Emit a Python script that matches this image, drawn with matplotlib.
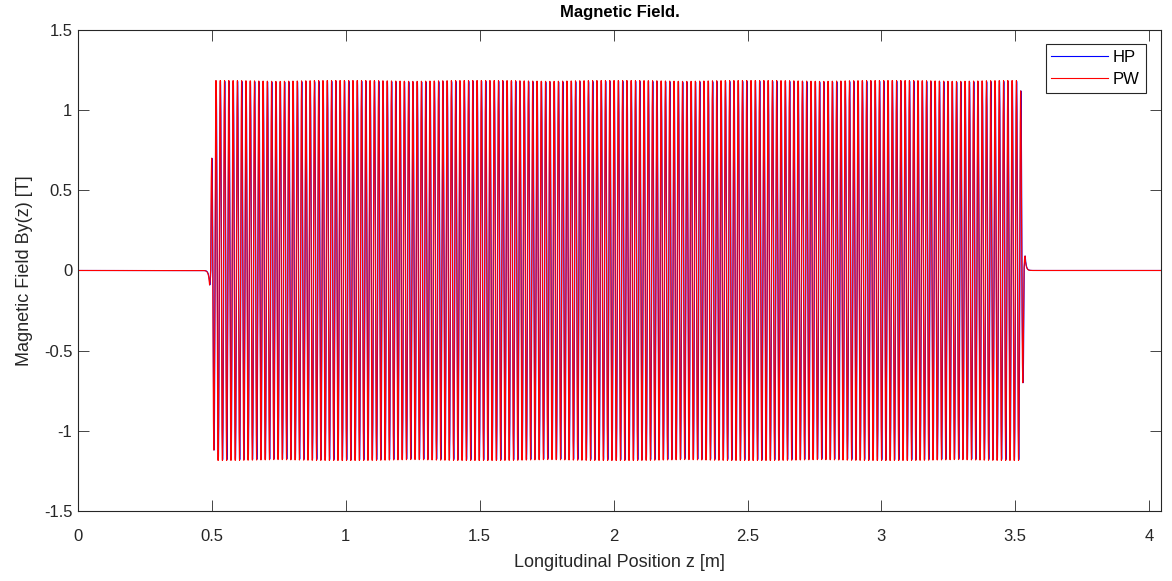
import numpy as np
import matplotlib
matplotlib.use('Agg')
import matplotlib.pyplot as plt

# Undulator layout (metres / tesla)
Z_MAX = 4.044
Z_STEP = 0.0005
FIRST_POLE = 0.491
LAST_POLE = 3.536
N_HALF_PERIODS = 381
PEAK_FIELD_PW = 1.185
PEAK_FIELD_HP = 1.18
HP_SHIFT = 0.001
END_POLES = [0.09, 0.70, 1.12]   # |B| of the outermost poles, from the outside in
TAIL_LENGTH = 0.004

SERIES = ['HP', 'PW']
COLORS = {'HP': 'b', 'PW': 'r'}
X_TICKS = [0, 0.5, 1, 1.5, 2, 2.5, 3, 3.5, 4]
Y_TICKS = [-1.5, -1, -0.5, 0, 0.5, 1, 1.5]


def pole_amplitudes(peak):
    amps = np.full(N_HALF_PERIODS + 1, peak)
    for i, a in enumerate(END_POLES):
        amps[i] = a
        amps[-1 - i] = a
    signs = np.where(np.arange(N_HALF_PERIODS + 1) % 2 == 0, -1.0, 1.0)
    return amps * signs


def field(z, peak, shift=0.0):
    half = (LAST_POLE - FIRST_POLE) / N_HALF_PERIODS
    poles = FIRST_POLE + shift + half * np.arange(N_HALF_PERIODS + 1)
    amps = pole_amplitudes(peak)
    b = np.zeros_like(z)
    k = np.clip(np.round((z - poles[0]) / half).astype(int), 0, N_HALF_PERIODS)
    inside = np.abs(z - poles[k]) <= half / 2
    b[inside] = amps[k[inside]] * np.cos(np.pi * (z[inside] - poles[k[inside]]) / half)
    # fringe tails outside the outer poles
    before = z < poles[0]
    b[before] = amps[0] * np.exp(-(poles[0] - z[before]) / TAIL_LENGTH)
    after = z > poles[-1]
    b[after] = amps[-1] * np.exp(-(z[after] - poles[-1]) / TAIL_LENGTH)
    return b


z = np.arange(0, Z_MAX + Z_STEP / 2, Z_STEP)
by = {
    'HP': field(z, PEAK_FIELD_HP, HP_SHIFT),
    'PW': field(z, PEAK_FIELD_PW),
}

plt.rcParams['font.family'] = ['Liberation Sans', 'DejaVu Sans']
fig = plt.figure(figsize=(11.72, 5.81), dpi=100)
ax = fig.add_axes([0.0666, 0.1205, 0.924, 0.8279])

for name in SERIES:
    ax.plot(z, by[name], color=COLORS[name], linewidth=0.8, label=name)

ax.set_xlim(0, Z_MAX)
ax.set_ylim(-1.5, 1.5)
ax.set_xticks(X_TICKS)
ax.set_xticklabels([f'{t:g}' for t in X_TICKS])
ax.set_yticks(Y_TICKS)
ax.set_yticklabels([f'{t:g}' for t in Y_TICKS])

dark = '#262626'
for spine in ax.spines.values():
    spine.set_color(dark)
    spine.set_linewidth(0.8)
ax.tick_params(direction='in', length=8, width=0.6, colors=dark,
               top=True, right=True, labelsize=12)
ax.tick_params(axis='x', pad=13)
ax.tick_params(axis='y', pad=4)

ax.set_xlabel('Longitudinal Position z [m]', fontsize=13, color=dark, labelpad=7)
ax.set_ylabel('Magnetic Field By(z) [T]', fontsize=13, color=dark, labelpad=8)
ax.set_title('Magnetic Field.', fontsize=12, fontweight='bold', pad=9)

leg = ax.legend(loc='upper right', bbox_to_anchor=(0.986, 0.971), borderaxespad=0,
                fancybox=False, fontsize=12, handlelength=3.4, handletextpad=0.3,
                borderpad=0.35, labelspacing=0.45, framealpha=1)
leg.get_frame().set_edgecolor(dark)
leg.get_frame().set_linewidth(0.8)

fig.savefig('out.png', dpi=100)
